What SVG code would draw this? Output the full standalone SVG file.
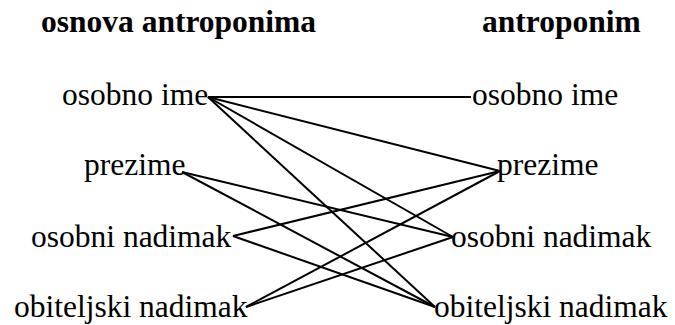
<svg xmlns="http://www.w3.org/2000/svg" width="675" height="325" viewBox="0 0 675 325">
<style>
text{font-family:"Liberation Serif","Times New Roman",serif;font-size:31.5px;fill:#000}
.h{font-weight:bold}
#connectors line{stroke:#000;stroke-width:2}
</style>
<rect width="675" height="325" fill="#fff"/>
<g id="header-left"><text class="h" x="41" y="32">osnova antroponima</text></g>
<g id="header-right"><text class="h" x="482" y="32">antroponim</text></g>
<g id="l-osobno-ime"><text x="62" y="105">osobno ime</text></g>
<g id="l-prezime"><text x="84" y="175">prezime</text></g>
<g id="l-osobni-nadimak"><text x="31" y="247">osobni nadimak</text></g>
<g id="l-obiteljski-nadimak"><text x="14" y="317">obiteljski nadimak</text></g>
<g id="r-osobno-ime"><text x="472" y="105">osobno ime</text></g>
<g id="r-prezime"><text x="497" y="175">prezime</text></g>
<g id="r-osobni-nadimak"><text x="451" y="247">osobni nadimak</text></g>
<g id="r-obiteljski-nadimak"><text x="434" y="317">obiteljski nadimak</text></g>
<g id="connectors">
<line x1="208" y1="97" x2="471" y2="97"/>
<line x1="208" y1="97" x2="500" y2="171"/>
<line x1="208" y1="97" x2="453" y2="237"/>
<line x1="208" y1="97" x2="435" y2="307"/>
<line x1="182" y1="172" x2="453" y2="237"/>
<line x1="182" y1="172" x2="435" y2="307"/>
<line x1="233" y1="236" x2="500" y2="171"/>
<line x1="233" y1="236" x2="435" y2="307"/>
<line x1="246" y1="307" x2="500" y2="171"/>
<line x1="246" y1="307" x2="453" y2="237"/>
</g>
</svg>
